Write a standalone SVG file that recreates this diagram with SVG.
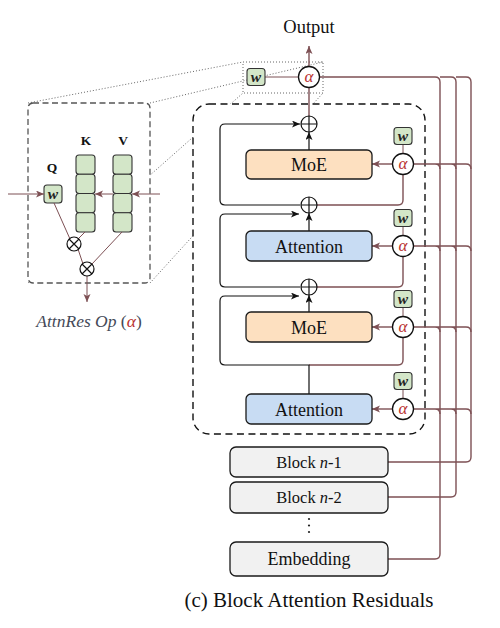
<svg xmlns="http://www.w3.org/2000/svg" width="500" height="628" viewBox="0 0 500 628">
<defs>
<style>
.t{font-family:"Liberation Serif","DejaVu Serif",serif;fill:#111;text-anchor:middle}
.box{stroke:#1a1a1a;stroke-width:1.3}
.moe{fill:#fde0c0}
.att{fill:#c8dcf3}
.blk{fill:#f1f1f1}
.wbox{fill:#d3e6c8;stroke:#333;stroke-width:1.1}
.wt{font-family:"Liberation Serif",serif;font-weight:bold;font-style:italic;font-size:15.5px;fill:#222;text-anchor:middle}
.al{fill:#fff;stroke:#111;stroke-width:1.3}
.at{font-family:"Liberation Serif",serif;font-style:italic;font-size:17px;fill:#b8312f;text-anchor:middle}
.br{fill:none;stroke:#7d5054;stroke-width:1.4}
.brt{fill:none;stroke:#7d5054;stroke-width:1}
.bk{fill:none;stroke:#111;stroke-width:1.2}
.dot{fill:none;stroke:#666;stroke-width:1;stroke-dasharray:1 2}
.pl{fill:#fff;stroke:#111;stroke-width:1.2}
.cell{fill:#d3e6c8;stroke:#333;stroke-width:1.1}
</style>
<marker id="ab" markerUnits="userSpaceOnUse" markerWidth="10" markerHeight="8" refX="8" refY="3.5" orient="auto"><path d="M0,0 L8,3.5 L0,7 L2,3.5 z" fill="#7d5054"/></marker>
<marker id="ak" markerUnits="userSpaceOnUse" markerWidth="10" markerHeight="8" refX="8" refY="3.5" orient="auto"><path d="M0,0 L8,3.5 L0,7 L2,3.5 z" fill="#111"/></marker>
</defs>
<rect width="500" height="628" fill="#fff"/>

<!-- perspective dotted lines (behind boxes) -->
<g id="zoom-lines">
<path class="dot" d="M28,103 L243,62 M150,103 L323,62 M28,283 L243,93 M150,283 L323,93"/>
<rect class="dot" x="243" y="62" width="80" height="31"/>
</g>

<!-- block frame -->
<rect id="block-frame" x="193" y="104" width="232" height="330" rx="16" fill="#fff" stroke="#111" stroke-width="1.4" stroke-dasharray="7 4.5"/>

<!-- inset -->
<g id="inset">
<rect x="28" y="103" width="122" height="180" rx="5" fill="#fff" stroke="#555" stroke-width="1.3" stroke-dasharray="6 3.5"/>
<text class="t" x="52" y="172" font-size="13.5" font-weight="bold" fill="#222">Q</text>
<text class="t" x="86" y="145" font-size="13.5" font-weight="bold" fill="#333">K</text>
<text class="t" x="123" y="145" font-size="13.5" font-weight="bold" fill="#333">V</text>
<g id="inset-q"><rect class="wbox" x="44" y="185" width="18" height="18" rx="3"/><text class="wt" x="53" y="198.5">w</text></g>
<g id="inset-k">
<rect class="cell" x="76" y="155" width="19" height="19.25" rx="3"/>
<rect class="cell" x="76" y="174.25" width="19" height="19.25" rx="3"/>
<rect class="cell" x="76" y="193.5" width="19" height="19.25" rx="3"/>
<rect class="cell" x="76" y="212.75" width="19" height="19.25" rx="3"/>
</g>
<g id="inset-v">
<rect class="cell" x="113" y="155" width="19" height="19.25" rx="3"/>
<rect class="cell" x="113" y="174.25" width="19" height="19.25" rx="3"/>
<rect class="cell" x="113" y="193.5" width="19" height="19.25" rx="3"/>
<rect class="cell" x="113" y="212.75" width="19" height="19.25" rx="3"/>
</g>
<g id="inset-links">
<path class="brt" d="M8,194 H44" marker-end="url(#ab)"/>
<path class="brt" d="M160,194 H132" marker-end="url(#ab)"/>
<path class="brt" d="M113,194 H95" marker-end="url(#ab)"/>
<path class="brt" d="M54,203 L70,239 M85,232 L78,239 M78,249 L83,264 M122,232 L92,264"/>
<path class="brt" d="M87,276 V302" marker-end="url(#ab)"/>
</g>
<g id="otimes1"><circle class="pl" cx="74" cy="244" r="7"/><path class="bk" d="M69,239 L79,249 M79,239 L69,249"/></g>
<g id="otimes2"><circle class="pl" cx="87" cy="269" r="7"/><path class="bk" d="M82,264 L92,274 M92,264 L82,274"/></g>
<text x="89" y="327" font-family="Liberation Serif,serif" font-size="17.5" fill="#454a58" text-anchor="middle"><tspan font-style="italic">AttnRes Op</tspan> (<tspan font-style="italic" fill="#b8312f">α</tspan>)</text>
</g>

<!-- connectors -->
<g id="connectors">
<!-- right bus -->
<path class="br" d="M388,559 H435 Q440,559 440,554 V82 Q440,77 435,77 H319.5"/>
<path class="br" d="M388,497 H451 Q456,497 456,492 V82 Q456,77 451,77 H440"/>
<path class="br" d="M388,462 H466 Q471,462 471,457 V82 Q471,77 466,77 H456"/>
<path class="br" d="M413.5,164 H466 Q471,164 471,169 M435,164 Q440,164 440,169 M451,164 Q456,164 456,169"/>
<path class="br" d="M413.5,246 H466 Q471,246 471,251 M435,246 Q440,246 440,251 M451,246 Q456,246 456,251"/>
<path class="br" d="M413.5,327 H466 Q471,327 471,332 M435,327 Q440,327 440,332 M451,327 Q456,327 456,332"/>
<path class="br" d="M413.5,409 H466 Q471,409 471,414 M435,409 Q440,409 440,414 M451,409 Q456,409 456,414"/>
<!-- top -->
<path class="br" d="M309,66.5 V46" marker-end="url(#ab)"/>
<path class="brt" d="M265,77 H298.5"/>
<path class="br" d="M309,116 V87.5"/>
<!-- alpha to boxes -->
<path class="br" d="M392.5,164 H372" marker-end="url(#ab)"/>
<path class="br" d="M392.5,246 H372" marker-end="url(#ab)"/>
<path class="br" d="M392.5,327 H372" marker-end="url(#ab)"/>
<path class="br" d="M392.5,409 H372" marker-end="url(#ab)"/>
<!-- w to alpha -->
<path class="brt" d="M403,144.5 V153.5 M403,226.5 V235.5 M403,307.5 V316.5 M403,389.5 V398.5"/>
<!-- partial sums to alpha -->
<path class="br" d="M317,205 H398 Q403,205 403,200 V174.5"/>
<path class="br" d="M317,287 H398 Q403,287 403,282 V256.5"/>
<path class="br" d="M309,365 H398 Q403,365 403,360 V337.5"/>
<!-- residual loops -->
<path class="bk" d="M300,205 H225 Q220,205 220,200 V129 Q220,124 225,124 H300" marker-end="url(#ak)"/>
<path class="bk" d="M300,287 H225 Q220,287 220,282 V219 Q220,214 225,214 H299" marker-end="url(#ak)"/>
<path class="bk" d="M309,394 V365 H225 Q220,365 220,360 V301 Q220,296 225,296 H299" marker-end="url(#ak)"/>
<!-- box to plus -->
<path class="bk" d="M309,150 V132" marker-end="url(#ak)"/>
<path class="bk" d="M309,231 V213" marker-end="url(#ak)"/>
<path class="bk" d="M309,312 V295" marker-end="url(#ak)"/>
</g>

<!-- nodes -->
<text id="output" class="t" x="309" y="33" font-size="18.5">Output</text>
<g id="w-top"><rect class="wbox" x="247" y="68.5" width="18" height="17" rx="3"/><text class="wt" x="256" y="81.5">w</text></g>
<g id="alpha-top"><circle class="al" cx="309" cy="77" r="10.5"/><text class="at" x="309" y="81.5">α</text></g>

<g id="plus1"><circle class="pl" cx="309" cy="124" r="8"/><path class="bk" d="M301,124 H317 M309,116 V132"/></g>
<g id="plus2"><circle class="pl" cx="309" cy="205" r="8"/><path class="bk" d="M301,205 H317 M309,197 V213"/></g>
<g id="plus3"><circle class="pl" cx="309" cy="287" r="8"/><path class="bk" d="M301,287 H317 M309,279 V295"/></g>

<g id="moe1"><rect class="box moe" x="246" y="150" width="126" height="29" rx="5"/><text class="t" x="309" y="171" font-size="18">MoE</text></g>
<g id="attn1"><rect class="box att" x="246" y="231" width="126" height="30" rx="5"/><text class="t" x="309" y="252.5" font-size="18">Attention</text></g>
<g id="moe2"><rect class="box moe" x="246" y="312" width="126" height="30" rx="5"/><text class="t" x="309" y="333.5" font-size="18">MoE</text></g>
<g id="attn2"><rect class="box att" x="246" y="394" width="126" height="30" rx="5"/><text class="t" x="309" y="415.5" font-size="18">Attention</text></g>

<g id="w1"><rect class="wbox" x="394" y="127.5" width="18" height="17" rx="3"/><text class="wt" x="403" y="140.5">w</text></g>
<g id="alpha1"><circle class="al" cx="403" cy="164" r="10.5"/><text class="at" x="403" y="168.5">α</text></g>
<g id="w2"><rect class="wbox" x="394" y="209.5" width="18" height="17" rx="3"/><text class="wt" x="403" y="222.5">w</text></g>
<g id="alpha2"><circle class="al" cx="403" cy="246" r="10.5"/><text class="at" x="403" y="250.5">α</text></g>
<g id="w3"><rect class="wbox" x="394" y="290.5" width="18" height="17" rx="3"/><text class="wt" x="403" y="303.5">w</text></g>
<g id="alpha3"><circle class="al" cx="403" cy="327" r="10.5"/><text class="at" x="403" y="331.5">α</text></g>
<g id="w4"><rect class="wbox" x="394" y="372.5" width="18" height="17" rx="3"/><text class="wt" x="403" y="385.5">w</text></g>
<g id="alpha4"><circle class="al" cx="403" cy="409" r="10.5"/><text class="at" x="403" y="413.5">α</text></g>

<g id="block-n1"><rect class="box blk" x="230" y="447" width="158" height="30" rx="6"/><text class="t" x="309" y="467.5" font-size="16.5" fill="#333">Block <tspan font-style="italic">n</tspan>-1</text></g>
<g id="block-n2"><rect class="box blk" x="230" y="482" width="158" height="31" rx="6"/><text class="t" x="309" y="503" font-size="16.5" fill="#333">Block <tspan font-style="italic">n</tspan>-2</text></g>
<g id="vdots" fill="#222"><circle cx="309" cy="519" r="1.1"/><circle cx="309" cy="525.5" r="1.1"/><circle cx="309" cy="532" r="1.1"/></g>
<g id="embedding"><rect class="box blk" x="230" y="542" width="158" height="34" rx="6"/><text class="t" x="309" y="565" font-size="18">Embedding</text></g>

<text id="caption" class="t" x="309" y="607" font-size="21">(c) Block Attention Residuals</text>
</svg>
